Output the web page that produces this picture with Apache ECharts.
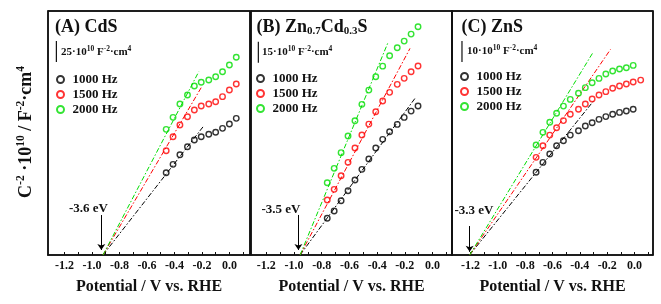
<!DOCTYPE html>
<html><head><meta charset="utf-8">
<script src="https://cdn.jsdelivr.net/npm/echarts@6/dist/echarts.min.js"></script>
<style>html,body{margin:0;padding:0;background:#fff}#c{width:661px;height:304px}</style>
</head><body><div id="c"></div>
<script>
// ---------- data ----------
const freqs = ['1000 Hz', '1500 Hz', '2000 Hz'];
const tickValues = [-1.2, -1.1, -1.0, -0.9, -0.8, -0.7, -0.6, -0.5, -0.4, -0.3, -0.2, -0.1, 0.0, 0.1];
const tickLabels = [-1.2, -1.0, -0.8, -0.6, -0.4, -0.2, 0.0];

// Panel A: CdS  (y in 10^10 F^-2 cm^4)
const xA = [-0.46, -0.41, -0.36, -0.305, -0.255, -0.205, -0.15, -0.10, -0.05, 0.0, 0.05];
const blackA = [97.9, 107.9, 119.4, 128.9, 136.9, 140.8, 143.7, 146.1, 150.8, 156.0, 162.7];
const redA = [124.2, 140.8, 154.8, 164.6, 172.6, 177.4, 179.8, 182.5, 188.5, 196.4, 203.6];
const greenA = [149.6, 163.9, 179.8, 190.5, 201.2, 205.6, 208.3, 212.3, 218.2, 226.2, 235.4];
const fitOriginA = [-0.92, 0];
const fitEndsA = [[-0.187, 153.6], [-0.204, 199.6], [-0.223, 218.2]];

// Panel B: Zn0.7Cd0.3S
const xB = [-0.76, -0.71, -0.66, -0.61, -0.56, -0.51, -0.46, -0.41, -0.36, -0.31, -0.255, -0.205, -0.155, -0.105];
const blackB = [26.2, 31.4, 38.8, 45.9, 53.6, 61.2, 68.6, 76.4, 82.6, 88.0, 93.3, 98.3, 102.8, 106.4];
const redB = [39.3, 46.9, 56.6, 66.2, 76.4, 85.7, 93.5, 102.3, 110.0, 116.2, 121.9, 126.2, 130.9, 135.0];
const greenB = [51.6, 61.9, 73.1, 85.0, 95.9, 107.6, 117.8, 127.3, 134.9, 142.3, 148.1, 152.8, 157.8, 163.1];
const fitOriginB = [-0.956, 0];
const fitEndsB = [[-0.127, 111.9], [-0.163, 147.6], [-0.324, 151.2]];

// Panel C: ZnS
const xC = [-0.72, -0.67, -0.62, -0.57, -0.52, -0.47, -0.41, -0.36, -0.31, -0.26, -0.21, -0.16, -0.11, -0.06, -0.01];
const xCred = [-0.72, -0.67, -0.62, -0.57, -0.52, -0.47, -0.41, -0.36, -0.31, -0.26, -0.21, -0.16, -0.11, -0.06, -0.01, 0.045];
const blackC = [39.4, 44.1, 48.1, 52.0, 54.4, 57.1, 59.2, 61.4, 63.0, 64.6, 65.9, 67.0, 67.9, 68.6, 69.4];
const redC = [46.5, 52.0, 57.1, 60.6, 64.0, 67.0, 69.4, 71.9, 74.3, 76.2, 77.8, 79.4, 80.5, 81.4, 82.4, 83.3];
const greenC = [52.4, 58.4, 63.2, 67.5, 70.9, 74.1, 77.0, 79.7, 82.0, 84.1, 86.2, 87.6, 88.6, 89.2, 90.3];
const fitOriginC = [-1.206, 0];
const fitEndsC = [[-0.298, 73.5], [-0.176, 97.9], [-0.308, 96.0]];

// scale bars (units of 10^10 F^-2 cm^4)
const scaleValues = [25, 15, 10];
// flat-band annotations
const flatBandLabels = ['-3.6 eV', '-3.5 eV', '-3.3 eV'];

// ---------- layout / style ----------
const FONT = 'Liberation Serif';
const INK = '#111';
const colors = ['#000000', '#ff0000', '#00dd00'];
const panels = [
  { left: 48, width: 202, xmin: -1.32, xmax: 0.15, ymax: 290.5,
    xs: [xA, xA, xA], ys: [blackA, redA, greenA], origin: fitOriginA, ends: fitEndsA,
    arrowX: -0.932, arrowTop: 47.6, arrowBot: 6, textPx: [88.5, 208.5],
    barX: -1.259, barTop: 254.8 },
  { left: 251, width: 201, xmin: -1.31, xmax: 0.14, ymax: 174.3,
    xs: [xB, xB, xB], ys: [blackB, redB, greenB], origin: fitOriginB, ends: fitEndsB,
    arrowX: -0.968, arrowTop: 28.6, arrowBot: 3.6, textPx: [281, 209.5],
    barX: -1.257, barTop: 152.4 },
  { left: 452, width: 201, xmin: -1.335, xmax: 0.135, ymax: 116.2,
    xs: [xC, xCred, xC], ys: [blackC, redC, greenC], origin: fitOriginC, ends: fitEndsC,
    arrowX: -1.206, arrowTop: 13.8, arrowBot: 1.5, textPx: [474, 211],
    barX: -1.262, barTop: 101.9 }
];
const TOP = 11, HEIGHT = 244;

const grid = [], xAxis = [], yAxis = [], series = [], legend = [];
panels.forEach((p, i) => {
  grid.push({ left: p.left, top: TOP, width: p.width, height: HEIGHT, show: true,
    borderColor: INK, borderWidth: 1.5 });
  xAxis.push({ type: 'value', gridIndex: i, min: p.xmin, max: p.xmax,
    axisLine: { show: true, onZero: false, lineStyle: { color: INK, width: 1.5 } },
    axisTick: { show: true, inside: true, length: 3, customValues: tickValues, lineStyle: { color: INK, width: 1 } },
    axisLabel: { customValues: tickLabels, formatter: v => v.toFixed(1), margin: 5,
      fontFamily: FONT, fontWeight: 'bold', fontSize: 12, color: INK },
    splitLine: { show: false },
    name: 'Potential / V vs. RHE', nameLocation: 'middle', nameGap: 24,
    nameTextStyle: { fontFamily: FONT, fontWeight: 'bold', fontSize: 16, color: INK } });
  yAxis.push({ type: 'value', gridIndex: i, min: 0, max: p.ymax,
    axisLine: { show: true, onZero: false, lineStyle: { color: INK, width: 1.5 } },
    axisTick: { show: false }, axisLabel: { show: false }, splitLine: { show: false } });

  // top and right edges of the panel frame, along the axis extents
  series.push({ type: 'line', name: 'frame' + i, xAxisIndex: i, yAxisIndex: i,
    data: [[p.xmin, p.ymax], [p.xmax, p.ymax], [p.xmax, 0]],
    showSymbol: false, symbol: 'none', silent: true, clip: false, z: 5,
    lineStyle: { color: INK, width: 1.5, type: 'solid' } });

  // fitted Mott-Schottky lines
  p.ends.forEach((e, k) => {
    series.push({ type: 'line', name: 'fit' + i + k, xAxisIndex: i, yAxisIndex: i,
      data: [p.origin, e], showSymbol: false, symbol: 'none', silent: true, z: 2,
      lineStyle: { color: colors[k], width: 1, type: [5, 2, 1.5, 2] } });
  });
  // measured points
  freqs.forEach((f, k) => {
    series.push({ type: 'scatter', name: f, xAxisIndex: i, yAxisIndex: i, z: 3,
      data: p.xs[k].map((x, j) => [x, p.ys[k][j]]),
      symbol: 'circle', symbolSize: 5.5, color: colors[k],
      itemStyle: { color: 'rgba(255,255,255,0)', borderColor: colors[k], borderWidth: 1.4 } });
  });
  // scale bar, with the arrow to the flat-band potential as a markLine
  series.push({ type: 'line', name: 'bar' + i, xAxisIndex: i, yAxisIndex: i,
    data: [[p.barX, p.barTop], [p.barX, p.barTop - scaleValues[i]]],
    showSymbol: false, symbol: 'none', silent: true, clip: false, z: 4,
    lineStyle: { color: INK, width: 1.2, type: 'solid' },
    markLine: { silent: true, animation: false, symbol: ['none', 'arrow'], symbolSize: 6,
      label: { show: false }, lineStyle: { color: '#000', width: 1, type: 'solid' },
      data: [[{ coord: [p.arrowX, p.arrowTop] }, { coord: [p.arrowX, p.arrowBot] }]] } });
});

const legPos = [[51, 68], [251, 67], [455, 65]];
legPos.forEach(lp => legend.push({ left: lp[0], top: lp[1], orient: 'vertical', data: freqs,
  itemWidth: 14, itemHeight: 7, itemGap: 2, selectedMode: false,
  textStyle: { fontFamily: FONT, fontWeight: 'bold', fontSize: 13, color: INK } }));

const sup = { fontFamily: FONT, fontWeight: 'bold', fontSize: 7.5, fill: INK, padding: [0, 0, 6, 0] };
const mainS = { fontFamily: FONT, fontWeight: 'bold', fontSize: 11, fill: INK };
function scaleText(i, x, y) {
  return { type: 'text', x: x, y: y, style: {
    text: '{m|' + scaleValues[i] + '·10}{p|10}{m| F}{p|-2}{m|·cm}{p|4}',
    verticalAlign: 'middle', rich: { m: mainS, p: sup } } };
}
const titleM = { fontFamily: FONT, fontWeight: 'bold', fontSize: 18, fill: INK };
const titleS = { fontFamily: FONT, fontWeight: 'bold', fontSize: 11, fill: INK, padding: [9, 0, 0, 0] };

const graphic = [
  { type: 'text', x: 55, y: 27, style: { text: '{m|(A) CdS}', verticalAlign: 'middle', rich: { m: titleM } } },
  { type: 'text', x: 256.5, y: 27, style: { text: '{m|(B) Zn}{s|0.7}{m|Cd}{s|0.3}{m|S}', verticalAlign: 'middle', rich: { m: titleM, s: titleS } } },
  { type: 'text', x: 461.5, y: 27, style: { text: '{m|(C) ZnS}', verticalAlign: 'middle', rich: { m: titleM } } },
  scaleText(0, 61, 52), scaleText(1, 262, 52), scaleText(2, 467, 51),
  { type: 'text', x: 26, y: 132, rotation: Math.PI / 2, style: {
    text: '{m|C}{p|-2}{m| ·10}{p|10}{m| / F}{p|-2}{m|·cm}{p|4}',
    align: 'center', verticalAlign: 'middle',
    rich: { m: { fontFamily: FONT, fontWeight: 'bold', fontSize: 18, fill: INK },
            p: { fontFamily: FONT, fontWeight: 'bold', fontSize: 11.5, fill: INK, padding: [0, 0, 9, 0] } } } }
];
panels.forEach((p, i) => graphic.push({ type: 'text', x: p.textPx[0], y: p.textPx[1], style: {
  text: flatBandLabels[i], align: 'center', verticalAlign: 'middle',
  fontFamily: FONT, fontWeight: 'bold', fontSize: 13, fill: INK } }));

const chart = echarts.init(document.getElementById('c'), null, { renderer: 'canvas' });
chart.setOption({ animation: false, backgroundColor: '#fff', grid, xAxis, yAxis, legend, series, graphic });
</script></body></html>
